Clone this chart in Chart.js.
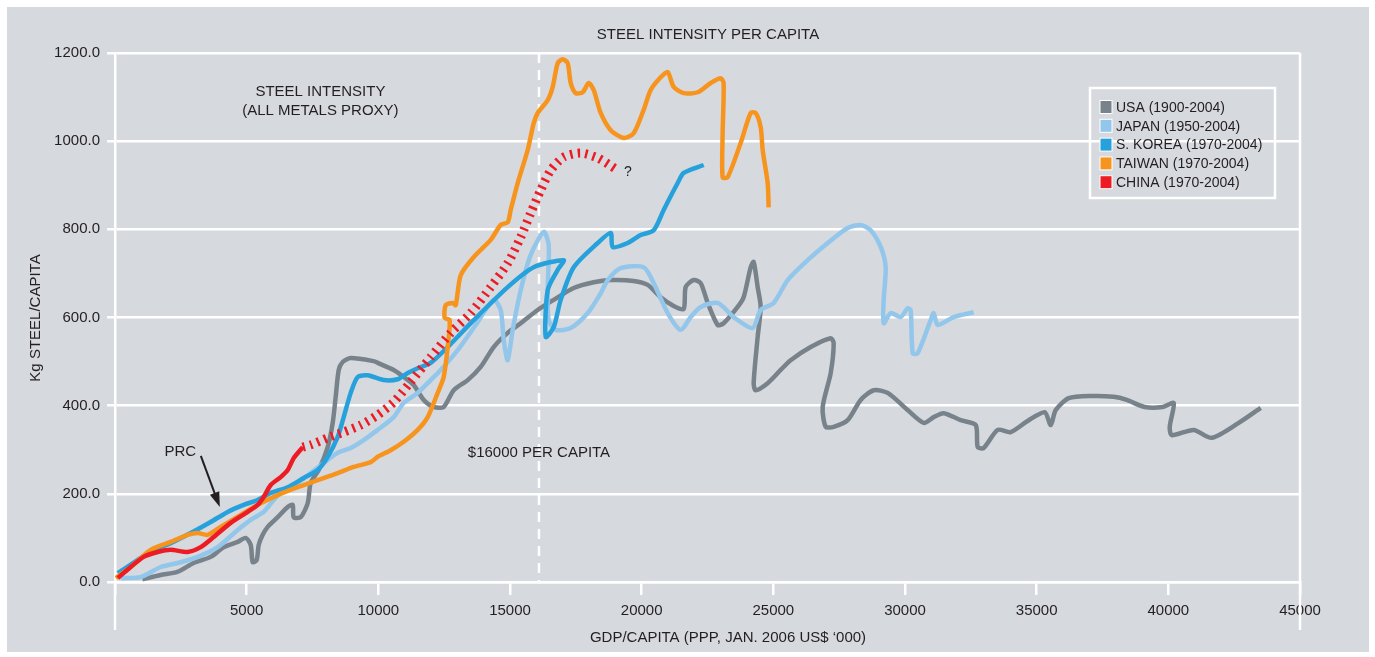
<!DOCTYPE html>
<html lang="en">
<head>
<meta charset="UTF-8">
<title>Steel intensity per capita</title>
<style>
  html, body { margin: 0; padding: 0; background: #fff; }
  #wrap { width: 1375px; height: 657px; }
</style>
<script src="https://cdn.jsdelivr.net/npm/chart.js"></script>
</head>
<body>
<div id="wrap"><canvas id="chart" width="1375" height="657"></canvas></div>
<script>
// GDP per capita (PPP, Jan. 2006 US$) vs kg steel per capita
const usaGdp = [1040,1735,2370,2988,3634,4127,4659,4963,5153,5229,5381,5457,5609,5799,6179,6558,6748,6786,7052,7318,7432,7735,8077,8267,8381,8495,8647,8951,9824,9976,10583,10963,11343,11722,12102,12482,12862,13394,13887,14381,14913,15406,16052,16659,17419,18179,18824,19696,20228,20722,21215,21595,21671,21975,22241,22507,22887,23113,23645,23873,24139,24253,24405,24519,24405,24253,24329,24785,25279,25658,26418,27178,27292,27178,26874,26988,27292,27823,28317,28811,29342,30102,30710,31090,31470,32115,32685,32761,32989,33521,34014,34698,35306,35534,35724,36217,37091,37926,38420,39103,39787,40205,40053,40129,40964,41648,42673,43508];
const usaSteel = [6,16,23,43,57,79,91,100,84,45,50,84,107,125,147,170,175,147,147,179,225,254,306,361,420,481,499,508,501,497,481,465,447,413,397,397,435,458,488,533,565,587,617,640,667,680,685,683,674,646,626,619,669,685,678,633,583,587,624,646,714,726,669,624,556,451,435,451,481,503,533,553,542,474,397,352,352,367,413,435,429,390,361,374,383,367,356,306,304,345,340,367,385,356,390,417,422,420,413,397,397,406,352,333,345,327,361,395];

const japanGdp = [216,976,1735,2381,3140,3900,4659,5153,5647,6027,6406,6938,7432,7925,8457,8951,9444,9976,10583,10963,11494,11988,12368,13014,13697,14381,14647,14761,14913,15102,15406,15786,16280,16470,16432,16470,16735,17305,17951,18444,18710,19202,20076,20456,20988,21481,21861,22241,22887,23493,24215,24519,25013,25545,26304,27064,27823,28317,28697,29077,29266,29190,29190,29456,29836,30102,30216,30292,30482,30976,31090,31242,31849,32609];
const japanSteel = [9,11,34,43,57,79,118,141,159,186,209,225,247,270,293,304,322,345,374,406,429,458,481,526,583,640,617,549,503,572,662,742,794,764,662,594,572,576,610,655,685,712,714,678,610,572,601,624,633,601,576,617,633,685,730,769,803,810,798,760,714,640,587,610,601,621,617,519,519,594,610,583,601,612];

const koreaGdp = [106,862,1469,2115,2874,3634,4279,4887,5419,5913,6558,7166,7697,8077,8457,8685,8951,9217,9596,10204,10735,11115,11494,11988,12634,13621,14913,15900,17039,16811,16432,16356,16659,16925,17419,18330,18824,18900,19468,19962,20456,20836,21367,21595,22355];
const koreaSteel = [20,50,73,88,111,136,159,175,186,202,215,236,254,284,329,374,429,465,469,458,460,474,485,497,533,594,669,714,730,708,662,556,578,640,714,769,792,760,769,787,798,844,905,928,946];

const taiwanGdp = [27,596,1355,2115,2760,3140,3520,4013,4773,5419,6179,6938,7697,8457,9065,9710,9976,10469,10963,11494,11874,12254,12482,12634,12710,12520,12558,12824,12938,13128,13621,14267,14647,14913,15026,15292,15672,15900,16052,16432,16622,16811,17001,17191,17305,17495,17761,17989,18179,18444,18824,19316,19696,20076,20342,20722,20988,21215,21595,22127,22621,22999,23113,23075,23075,23265,23759,24139,24329,24519,24595,24785,24823];
const taiwanSteel = [9,34,73,91,107,111,107,125,152,175,197,215,231,247,261,272,284,299,318,345,374,429,465,533,594,599,628,633,628,696,737,776,810,816,844,905,980,1041,1064,1093,1123,1177,1186,1177,1132,1109,1111,1132,1116,1064,1025,1007,1018,1071,1116,1145,1157,1123,1109,1111,1132,1143,1132,1018,918,918,996,1064,1064,1032,980,905,850];

const chinaGdp = [106,596,1089,1621,2115,2760,3254,3748,4393,5039,5419,5647,5913,6293,6558,6786,7128];
const chinaSteel = [9,34,57,68,73,68,79,102,134,159,175,193,220,238,254,281,306];
// projected path for China (hatched)
const chinaProjGdp = [7128,7432,8077,8685,9331,9976,10583,11229,11990,12748,13507,14267,14913,15406,15786,16166,16546,17039,17685,18330,19090];
const chinaProjSteel = [306,311,327,340,356,379,408,454,510,565,610,669,723,782,837,889,934,964,973,962,934];

const yTicks = [0, 200, 400, 600, 800, 1000, 1200];
const xTicks = [5000, 10000, 15000, 20000, 25000, 30000, 35000, 40000, 45000];
const markerGdp = 16100;

const colors = {
    usa: '#77828a',
    japan: '#93c6eb',
    korea: '#27a1dc',
    taiwan: '#f7941e',
    china: '#ed1c24'
};

const ink = '#231f20';
const font = '"Liberation Sans", Arial, sans-serif';

function points(xs, ys) {
    return xs.map((x, i) => ({ x: x, y: ys[i] }));
}

function series(label, xs, ys, color, order) {
    return {
        label: label,
        data: points(xs, ys),
        borderColor: color,
        backgroundColor: color,
        borderWidth: 4.5,
        showLine: true,
        pointRadius: 0,
        tension: 0.25,
        order: order
    };
}

const datasets = [
    series('USA (1900-2004)', usaGdp, usaSteel, colors.usa, 5),
    series('JAPAN (1950-2004)', japanGdp, japanSteel, colors.japan, 4),
    series('S. KOREA (1970-2004)', koreaGdp, koreaSteel, colors.korea, 3),
    series('TAIWAN (1970-2004)', taiwanGdp, taiwanSteel, colors.taiwan, 2),
    series('CHINA (1970-2004)', chinaGdp, chinaSteel, colors.china, 0)
];
const proj = series('CHINA projection', chinaProjGdp, chinaProjSteel, colors.china, 1);
proj.borderWidth = 9;
proj.borderDash = [2.4, 5.2];
proj.borderCapStyle = 'butt';
proj.noLegend = true;
datasets.push(proj);

function text(c, str, x, y, size, align) {
    c.font = size + 'px ' + font;
    c.textAlign = align || 'center';
    c.textBaseline = 'middle';
    c.fillText(str, x, y);
}

const decor = {
    id: 'decor',
    beforeDraw(chart) {
        const c = chart.ctx;
        c.save();
        c.fillStyle = '#ffffff';
        c.fillRect(0, 0, chart.width, chart.height);
        c.fillStyle = '#d6d9de';
        c.fillRect(7, 7, 1362, 645);
        c.restore();
    },
    beforeDatasetsDraw(chart) {
        const c = chart.ctx;
        const a = chart.chartArea;
        const x = chart.scales.x;
        c.save();
        c.strokeStyle = '#ffffff';
        c.lineWidth = 2.5;
        c.beginPath();
        c.moveTo(a.left, a.bottom);
        c.lineTo(a.left, a.bottom + 48);
        c.moveTo(a.right, a.top);
        c.lineTo(a.right, a.bottom + 48);
        c.stroke();
        const mx = x.getPixelForValue(markerGdp);
        c.setLineDash([10, 7]);
        c.beginPath();
        c.moveTo(mx, a.top);
        c.lineTo(mx, a.bottom);
        c.stroke();
        c.restore();
    },
    afterDraw(chart) {
        const c = chart.ctx;
        const x = chart.scales.x;
        const y = chart.scales.y;
        c.save();
        c.fillStyle = ink;

        text(c, 'STEEL INTENSITY PER CAPITA', 708, 35, 15);
        text(c, 'GDP/CAPITA (PPP, JAN. 2006 US$ \u2018000)', 728, 638, 15);
        c.save();
        c.translate(36, 318);
        c.rotate(-Math.PI / 2);
        text(c, 'Kg STEEL/CAPITA', 0, 0, 15);
        c.restore();

        text(c, 'STEEL INTENSITY', x.getPixelForValue(7800), y.getPixelForValue(1111), 15);
        text(c, '(ALL METALS PROXY)', x.getPixelForValue(7800), y.getPixelForValue(1068), 15);
        text(c, '$16000 PER CAPITA', x.getPixelForValue(markerGdp), y.getPixelForValue(293), 15);
        text(c, 'PRC', x.getPixelForValue(2480), y.getPixelForValue(295), 15);
        text(c, '?', x.getPixelForValue(19480), y.getPixelForValue(930), 14);

        // arrow pointing at the China line
        const x0 = x.getPixelForValue(3260), y0 = y.getPixelForValue(286);
        const x1 = x.getPixelForValue(3980), y1 = y.getPixelForValue(170);
        const ang = Math.atan2(y1 - y0, x1 - x0);
        c.strokeStyle = ink;
        c.lineWidth = 2;
        c.beginPath();
        c.moveTo(x0, y0);
        c.lineTo(x1 - 12 * Math.cos(ang), y1 - 12 * Math.sin(ang));
        c.stroke();
        c.beginPath();
        c.moveTo(x1, y1);
        c.lineTo(x1 - 15 * Math.cos(ang) + 5 * Math.sin(ang), y1 - 15 * Math.sin(ang) - 5 * Math.cos(ang));
        c.lineTo(x1 - 15 * Math.cos(ang) - 5 * Math.sin(ang), y1 - 15 * Math.sin(ang) + 5 * Math.cos(ang));
        c.closePath();
        c.fill();

        // legend box
        c.strokeStyle = '#ffffff';
        c.lineWidth = 2.5;
        c.strokeRect(1090, 88, 185, 110);
        const items = chart.data.datasets.filter(d => !d.noLegend);
        items.forEach((d, i) => {
            const ly = 107 + i * 18.8;
            c.fillStyle = d.borderColor;
            c.fillRect(1100, ly - 6.5, 12, 13);
            c.strokeStyle = '#ffffff';
            c.lineWidth = 1;
            c.strokeRect(1100, ly - 6.5, 12, 13);
            c.fillStyle = ink;
            text(c, d.label, 1116, ly + 1, 14, 'left');
        });
        c.restore();
    }
};

Chart.defaults.font.family = font;
Chart.defaults.color = ink;

new Chart(document.getElementById('chart'), {
    type: 'scatter',
    data: { datasets: datasets },
    options: {
        responsive: false,
        animation: false,
        devicePixelRatio: 1,
        layout: { padding: { left: 0, right: 75, top: 53, bottom: 0 } },
        plugins: {
            legend: { display: false },
            tooltip: { enabled: false }
        },
        scales: {
            x: {
                type: 'linear',
                min: 0,
                max: 45000,
                afterFit: s => { s.height = 75; },
                afterBuildTicks: s => { s.ticks = [0].concat(xTicks).map(v => ({ value: v })); },
                ticks: {
                    padding: 7,
                    font: { size: 15 },
                    color: ink,
                    maxRotation: 0,
                    callback: v => (v === 0 ? '' : String(v))
                },
                grid: {
                    drawOnChartArea: false,
                    color: '#ffffff',
                    lineWidth: 2.5,
                    tickLength: 13
                },
                border: { display: true, color: '#ffffff', width: 2.5 }
            },
            y: {
                min: 0,
                max: 1200,
                afterFit: s => { s.width = 115; },
                afterBuildTicks: s => { s.ticks = yTicks.map(v => ({ value: v })); },
                ticks: {
                    padding: 7,
                    font: { size: 15 },
                    color: ink,
                    callback: v => v.toFixed(1)
                },
                grid: {
                    color: '#ffffff',
                    lineWidth: 2.5,
                    tickLength: 8
                },
                border: { display: true, color: '#ffffff', width: 2.5 }
            }
        }
    },
    plugins: [decor]
});
</script>
</body>
</html>
